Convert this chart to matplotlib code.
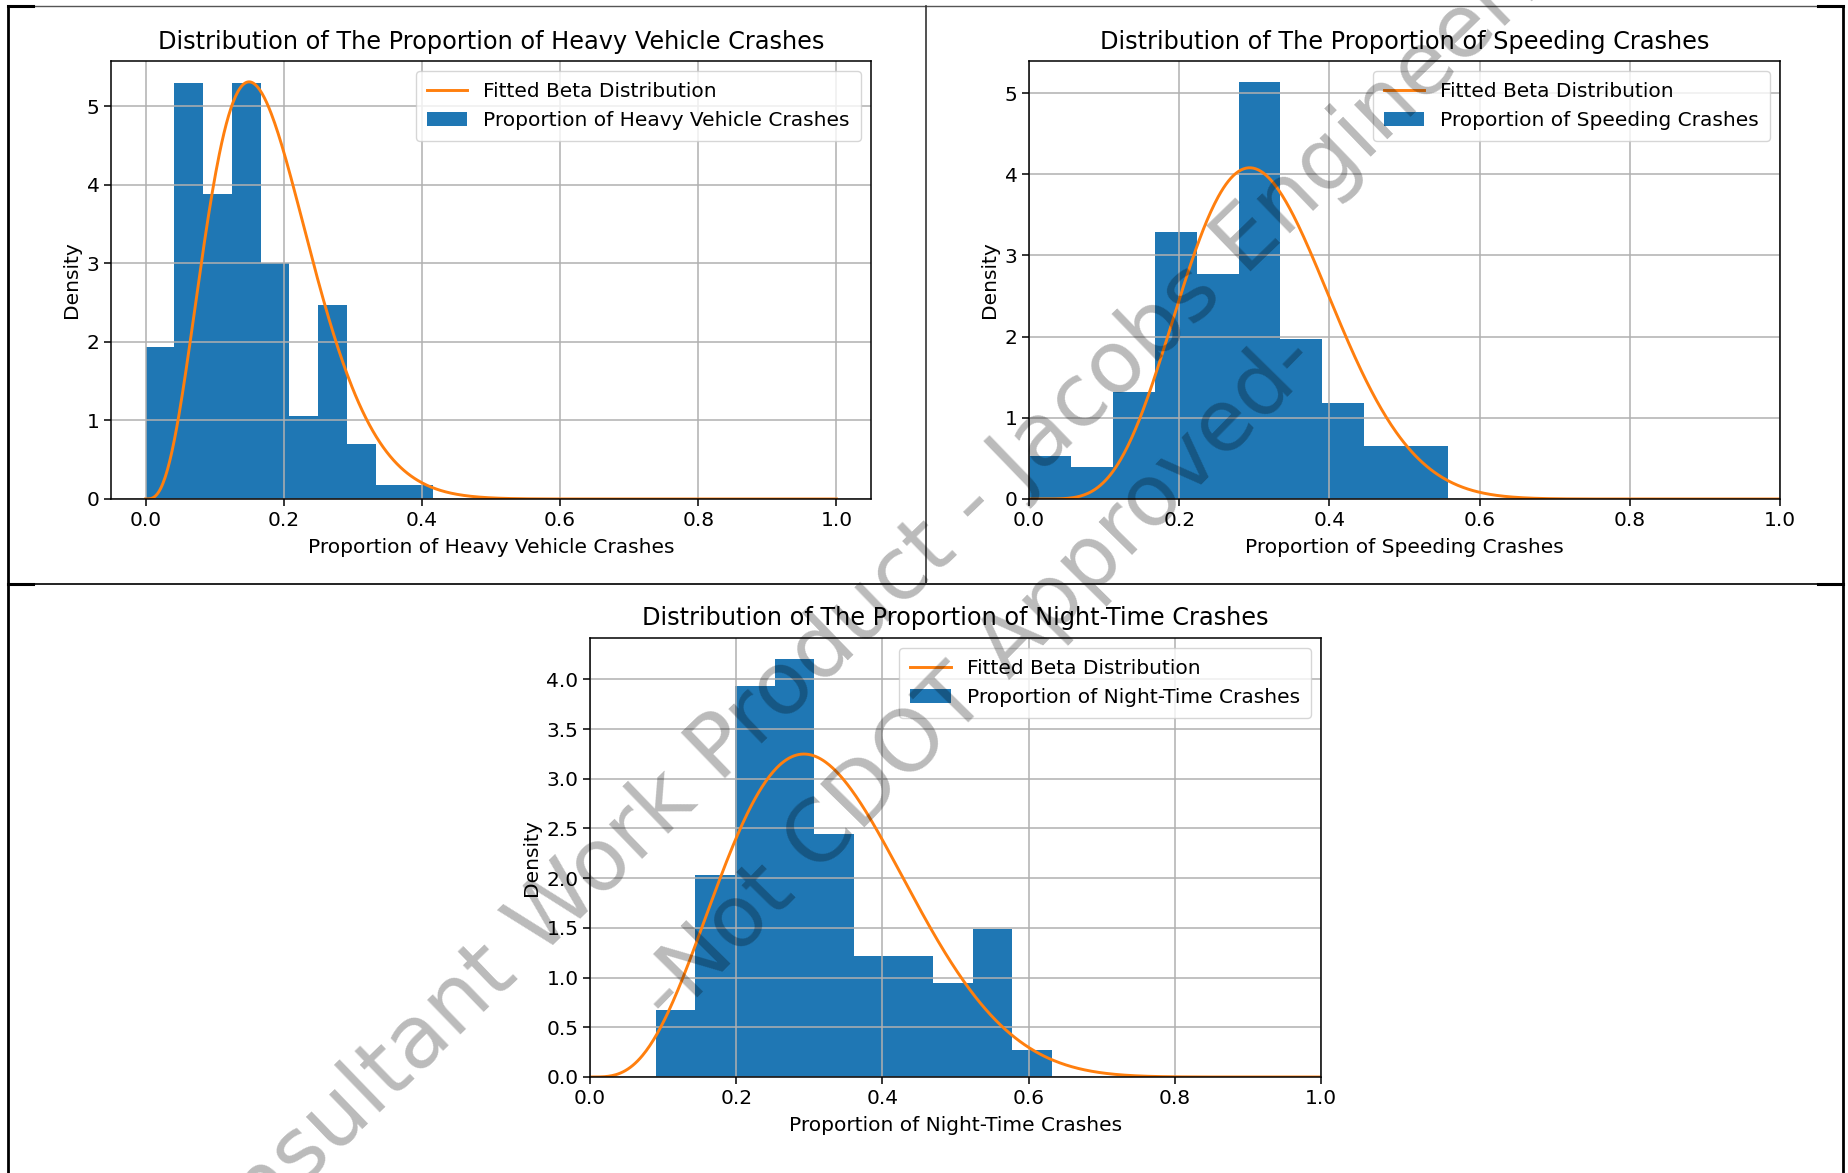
import math
import numpy as np
import matplotlib
matplotlib.use('Agg')
import matplotlib.pyplot as plt
from matplotlib.lines import Line2D

# counts per bin (10 bins each) and the range the bins cover
heavy_counts = [11, 30, 22, 30, 17, 6, 14, 4, 1, 1]
heavy_range = (0.0, 0.4167)
speed_counts = [4, 3, 10, 25, 21, 39, 15, 9, 5, 5]
speed_range = (0.0, 0.558)
night_counts = [5, 15, 29, 31, 18, 9, 9, 7, 11, 2]
night_range = (0.090, 0.632)

# fitted beta parameters (a, b)
heavy_beta = (4.26, 19.50)
speed_beta = (6.98, 15.37)
night_beta = (4.62, 9.75)

names = ['Heavy Vehicle', 'Speeding', 'Night-Time']

plt.rcParams['font.family'] = ['DejaVu Sans']
plt.rcParams['axes.linewidth'] = 1.1
plt.rcParams['grid.linewidth'] = 1.1
plt.rcParams['xtick.major.width'] = 1.1
plt.rcParams['ytick.major.width'] = 1.1
plt.rcParams['xtick.major.size'] = 4.8
plt.rcParams['ytick.major.size'] = 4.8


def beta_pdf(x, a, b):
  lnb = math.lgamma(a) + math.lgamma(b) - math.lgamma(a + b)
  return x ** (a - 1) * (1 - x) ** (b - 1) / math.exp(lnb)


W, H = 1849, 1173
fig = plt.figure(figsize=(W / 100, H / 100), dpi=100)

# axes boxes in pixels: left, top, right, bottom
boxes = [(111, 61, 871, 499), (1029, 61, 1780, 499), (590, 638, 1321, 1077)]
counts = [heavy_counts, speed_counts, night_counts]
ranges = [heavy_range, speed_range, night_range]
betas = [heavy_beta, speed_beta, night_beta]

xs = np.linspace(0, 1, 600)

for i in range(3):
  l, t, r, b = boxes[i]
  ax = fig.add_axes([l / W, 1 - b / H, (r - l) / W, (b - t) / H])
  edges = np.linspace(ranges[i][0], ranges[i][1], len(counts[i]) + 1)
  centers = (edges[:-1] + edges[1:]) / 2

  ax.plot(xs, beta_pdf(xs, *betas[i]), color='#ff7f0e', lw=2.1,
          label='Fitted Beta Distribution')
  ax.hist(centers, bins=edges, weights=counts[i], density=True,
          color='#1f77b4', label=f'Proportion of {names[i]} Crashes')

  if i > 0:
    ax.set_xlim(0, 1)
  ax.grid(True)
  ax.tick_params(labelsize=14.5)
  ax.set_xlabel(f'Proportion of {names[i]} Crashes', fontsize=14.5,
                labelpad=6)
  ax.set_ylabel('Density', fontsize=14.5)
  ax.set_title(f'Distribution of The Proportion of {names[i]} Crashes',
               fontsize=17.3, pad=9)
  ax.legend(loc='upper right', fontsize=14.5, borderpad=0.55)

# table borders of the document
def hline(y, x0, x1, lw=1.6, c='#222222'):
  fig.add_artist(Line2D([x0 / W, x1 / W], [1 - y / H, 1 - y / H],
                        transform=fig.transFigure, lw=lw, color=c))

def vline(x, y0, y1, lw=1.6, c='#222222'):
  fig.add_artist(Line2D([x / W, x / W], [1 - y0 / H, 1 - y1 / H],
                        transform=fig.transFigure, lw=lw, color=c))

hline(6, 8, 1843, lw=1.0, c='#555555')
hline(6, 8, 33, lw=2.2, c='black')
hline(6, 1818, 1843, lw=2.2, c='black')
hline(584, 8, 1843, lw=1.4, c='#222222')
hline(584, 8, 33, lw=2.2, c='black')
hline(584, 1818, 1843, lw=2.2, c='black')
vline(8, 6, H, lw=2.0, c='black')
vline(1843, 6, H, lw=2.0, c='black')
vline(926, 6, 584, lw=1.2, c='#333333')

# watermark
fig.text(885 / W, 1 - 592 / H, 'Consultant Work Product - Jacobs Engineering',
         rotation=44, rotation_mode='anchor', ha='center', va='center',
         fontsize=63, color='black', alpha=0.27, zorder=10)
fig.text(979 / W, 1 - 678 / H, '-Not CDOT Approved-',
         rotation=45.5, rotation_mode='anchor', ha='center', va='center',
         fontsize=62, color='black', alpha=0.27, zorder=10)

fig.savefig('out.png', dpi=100)
